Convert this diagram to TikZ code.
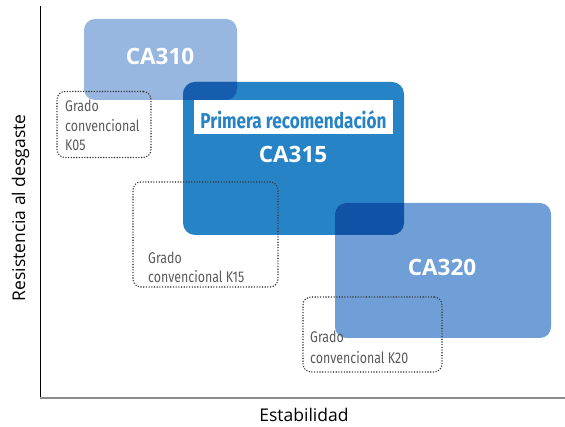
\documentclass[tikz,border=0pt]{standalone}
\usepackage{fontspec}
\setmainfont{Open Sans}
\newfontfamily\condfont[FakeStretch=0.8]{Fira Sans}
\definecolor{cLight}{HTML}{97B6E0}
\definecolor{cMid}{HTML}{2683C6}
\definecolor{cSoft}{HTML}{6F9FD6}
\definecolor{cOverA}{HTML}{165DAE}
\definecolor{cOverB}{HTML}{1052A6}
\definecolor{cDots}{HTML}{3C3C3C}
\definecolor{cGrayTxt}{HTML}{5A5A5A}
\begin{document}
\begin{tikzpicture}[x=1pt,y=-1pt,
  blockbox/.style={inner sep=0pt,outer sep=0pt,rounded corners=11pt},
  bigtxt/.style={text=white,font=\fontsize{22.5}{22.5}\selectfont\bfseries,anchor=base},
  gradebox/.style={draw=cDots,line width=1.6pt,dash pattern=on 0pt off 2.7pt,line cap=round,rounded corners=8pt,inner sep=0pt},
  gradetxt/.style={text=cGrayTxt,font=\condfont\fontsize{15.5}{15.5}\selectfont,anchor=base west,inner sep=0pt},
  axistxt/.style={font=\fontsize{17.5}{17.5}\selectfont,inner sep=0pt}]
\useasboundingbox (0,0) rectangle (565,427);
% axes
\coordinate (o) at (40,398);
\coordinate (ytop) at (40,6);
\coordinate (xend) at (565,398);
\draw[black,line width=1pt] (ytop) -- (o);
\draw[gray!90,line width=1.6pt] (o) -- (xend);
% blue blocks
\node[blockbox,fill=cLight,minimum width=153pt,minimum height=81pt] (ca310) at (160.5,59.5) {};
\node[blockbox,fill=cMid,minimum width=221pt,minimum height=153pt,rounded corners=12pt] (ca315) at (293.5,158.5) {};
\node[blockbox,fill=cSoft,minimum width=216pt,minimum height=135pt] (ca320) at (443,270.5) {};
% overlaps
\begin{scope}
  \clip[rounded corners=12pt] (183,82) rectangle (404,235);
  \fill[cOverA,rounded corners=11pt] (84,19) rectangle (237,100);
  \fill[cOverB,rounded corners=11pt] (335,203) rectangle (551,338);
\end{scope}
% labels in blocks
\node[bigtxt] (t310) at (160,65) {CA310};
\node[fill=white,minimum width=199pt,minimum height=34pt,inner sep=0pt] (rec) at (293.5,117) {};
\node[text=cMid,font=\condfont\fontsize{21.5}{21.5}\selectfont\bfseries,anchor=base,inner sep=0pt] (rect) at (293.5,128.5) {Primera recomendación};
\node[bigtxt] (t315) at (293,162.5) {CA315};
\node[bigtxt] (t320) at (442,275.5) {CA320};
% dotted grade boxes
\node[gradebox,minimum width=94pt,minimum height=66pt] (k05) at (104,124.5) {};
\node[gradebox,minimum width=145pt,minimum height=105pt] (k15) at (205.5,234.5) {};
\node[gradebox,minimum width=139pt,minimum height=75pt] (k20) at (372.5,334.5) {};
\node[gradetxt] (k05a) at (65,112) {Grado};
\node[gradetxt] (k05b) at (65,131.5) {convencional};
\node[gradetxt] (k05c) at (65,150.5) {K05};
\node[gradetxt] (k15a) at (148,264) {Grado};
\node[gradetxt] (k15b) at (148,283) {convencional K15};
\node[gradetxt] (k20a) at (310,343) {Grado};
\node[gradetxt] (k20b) at (310,364) {convencional K20};
% axis labels
\node[axistxt,anchor=base] (xl) at (304,421.5) {Estabilidad};
\node[axistxt,anchor=base,rotate=90] (yl) at (25,208) {Resistencia al desgaste};
\end{tikzpicture}
\end{document}
